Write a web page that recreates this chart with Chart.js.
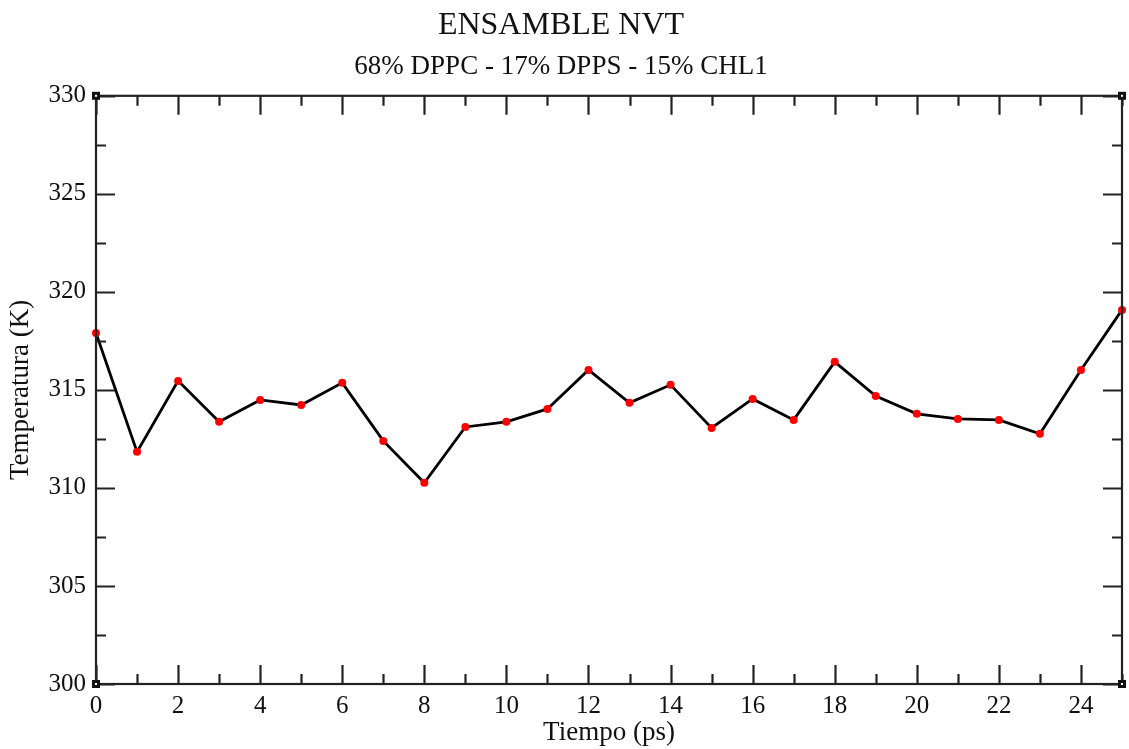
<!DOCTYPE html>
<html>
<head>
<meta charset="utf-8">
<script src="https://cdn.jsdelivr.net/npm/chart.js@4"></script>
<style>
  html, body { margin: 0; padding: 0; background: #fff; }
  #wrap { width: 1129px; height: 749px; }
</style>
</head>
<body>
<div id="wrap"><canvas id="nvt"></canvas></div>
<script>
// Temperature over time
const tiempo = [0, 1, 2, 3, 4, 5, 6, 7, 8, 9, 10, 11, 12, 13, 14, 15, 16, 17, 18, 19, 20, 21, 22, 23, 24, 25];
const temperatura = [317.9, 311.84, 315.46, 313.37, 314.49, 314.23, 315.36, 312.4, 310.26, 313.11, 313.37, 314.03,
  316.02, 314.34, 315.26, 313.06, 314.54, 313.47, 316.43, 314.69, 313.78, 313.52, 313.47, 312.76, 316.02, 319.08];
const xRange = [0, 25];
const yRange = [300, 330];

const serif = "'Liberation Serif', 'DejaVu Serif', serif";

// grace-style frame with inward ticks on all four sides
const frameTicks = {
  id: 'frameTicks',
  afterDraw(chart) {
    const { ctx, chartArea: a, scales } = chart;
    ctx.save();
    ctx.strokeStyle = '#222';
    ctx.lineWidth = 2.2;
    ctx.strokeRect(a.left, a.top, a.right - a.left, a.bottom - a.top);

    scales.x.ticks.forEach(t => {
      const px = Math.round(scales.x.getPixelForValue(t.value)) + 0.5;
      const len = t.value % 2 === 0 ? 19 : 10;
      ctx.beginPath();
      ctx.moveTo(px, a.bottom); ctx.lineTo(px, a.bottom - len);
      ctx.moveTo(px, a.top); ctx.lineTo(px, a.top + len);
      ctx.stroke();
    });
    scales.y.ticks.forEach(t => {
      const py = Math.round(scales.y.getPixelForValue(t.value)) + 0.5;
      const len = t.value % 5 === 0 ? 19 : 10;
      ctx.beginPath();
      ctx.moveTo(a.left, py); ctx.lineTo(a.left + len, py);
      ctx.moveTo(a.right, py); ctx.lineTo(a.right - len, py);
      ctx.stroke();
    });

    // little corner squares
    const corners = [[a.left, a.top], [a.right, a.top], [a.left, a.bottom], [a.right, a.bottom]];
    ctx.fillStyle = '#111';
    corners.forEach(([cx, cy]) => ctx.fillRect(cx - 4, cy - 4, 8, 8));
    ctx.fillStyle = '#fff';
    corners.forEach(([cx, cy]) => ctx.fillRect(cx - 1, cy - 1, 2, 2));
    ctx.restore();
  }
};

new Chart(document.getElementById('nvt'), {
  type: 'line',
  data: {
    datasets: [{
      data: tiempo.map((t, i) => ({ x: t, y: temperatura[i] })),
      borderColor: '#000',
      borderWidth: 2.8,
      pointBackgroundColor: '#ff0000',
      pointBorderWidth: 0,
      pointRadius: 4,
      tension: 0,
      clip: false
    }]
  },
  options: {
    responsive: true,
    maintainAspectRatio: false,
    animation: false,
    layout: { padding: { left: 0, right: 7, top: 0, bottom: 0 } },
    plugins: {
      legend: { display: false },
      tooltip: { enabled: false },
      title: {
        display: true,
        text: 'ENSAMBLE NVT',
        color: '#111',
        font: { family: serif, size: 32, weight: 'normal' },
        padding: { top: 6, bottom: 6 }
      },
      subtitle: {
        display: true,
        text: '68% DPPC - 17% DPPS - 15% CHL1',
        color: '#111',
        font: { family: serif, size: 27, weight: 'normal' },
        padding: { top: 0, bottom: 13 }
      }
    },
    scales: {
      x: {
        type: 'linear',
        min: xRange[0],
        max: xRange[1],
        afterFit: s => { s.height = 65; },
        grid: { display: false, drawTicks: false },
        border: { display: false },
        ticks: {
          stepSize: 1,
          autoSkip: false,
          maxRotation: 0,
          padding: 7,
          color: '#111',
          font: { family: serif, size: 25 },
          callback: v => (v % 2 === 0 ? v : '')
        },
        title: {
          display: true,
          text: 'Tiempo (ps)',
          color: '#111',
          font: { family: serif, size: 27 },
          padding: { top: 0, bottom: 0 }
        }
      },
      y: {
        min: yRange[0],
        max: yRange[1],
        afterFit: s => { s.width = 96; },
        grid: { display: false, drawTicks: false },
        border: { display: false },
        ticks: {
          stepSize: 2.5,
          autoSkip: false,
          padding: 10,
          color: '#111',
          font: { family: serif, size: 25 },
          callback: v => (v % 5 === 0 ? v : '')
        },
        title: {
          display: true,
          text: 'Temperatura (K)',
          color: '#111',
          font: { family: serif, size: 27 },
          padding: { top: 5, bottom: 0 }
        }
      }
    }
  },
  plugins: [frameTicks]
});
</script>
</body>
</html>
